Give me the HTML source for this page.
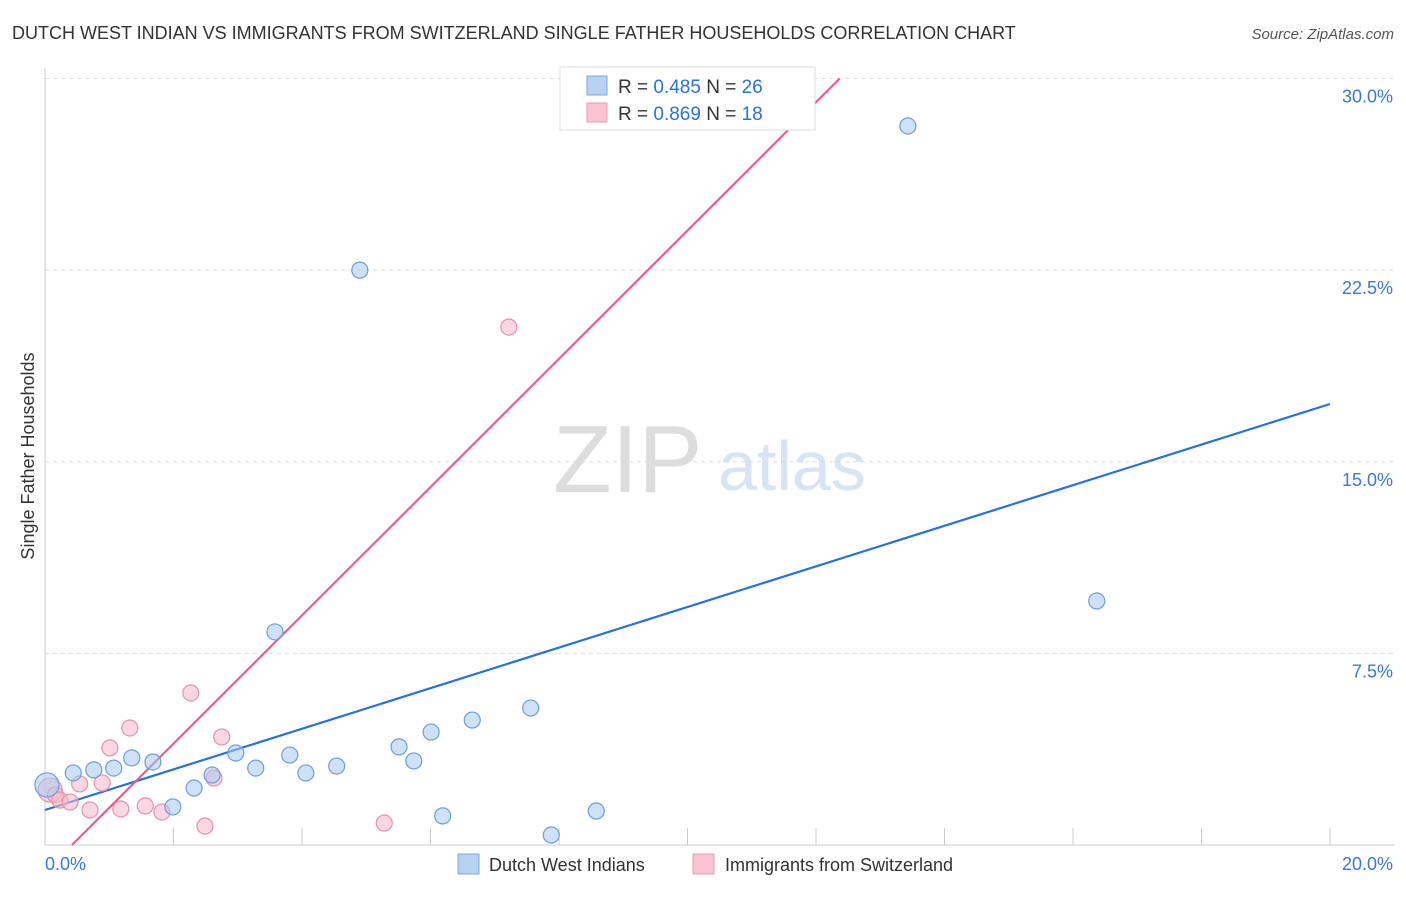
<!DOCTYPE html>
<html><head><meta charset="utf-8"><style>
body{margin:0;background:#fff;font-family:"Liberation Sans",sans-serif;}
svg text{font-family:"Liberation Sans",sans-serif;}
</style></head><body>
<svg width="1406" height="892" viewBox="0 0 1406 892">
<text x="12" y="39" font-size="18" fill="#333">DUTCH WEST INDIAN VS IMMIGRANTS FROM SWITZERLAND SINGLE FATHER HOUSEHOLDS CORRELATION CHART</text>
<text x="1394" y="39" font-size="15" fill="#555" text-anchor="end" font-style="italic">Source: ZipAtlas.com</text>
<g>
<text x="553" y="492" font-size="96" fill="#ddd" font-family="Liberation Serif,serif">ZIP</text>
<text x="718" y="490" font-size="70" fill="#d6e4f5">atlas</text>
</g>
<g id="grid"></g>
<g id="axes"></g>
<text transform="translate(34,456) rotate(-90)" font-size="18" fill="#333" text-anchor="middle">Single Father Households</text>
<g id="lines"></g>
<g id="points"></g>
<g>
<rect x="560" y="67" width="255" height="63" fill="#fff" stroke="#ddd"/>
<rect x="587" y="76" width="20" height="19" fill="#b8d2f4" stroke="#7aa8e0"/>
<rect x="587" y="103" width="20" height="19" fill="#f8c4d2" stroke="#ec9ab2"/>
<text x="618" y="93" font-size="19" fill="#333">R = <tspan fill="#2a72d8">0.485</tspan>   N = <tspan fill="#2a72d8">26</tspan></text>
<text x="618" y="120" font-size="19" fill="#333">R = <tspan fill="#2a72d8">0.869</tspan>   N = <tspan fill="#2a72d8"> 18</tspan></text>
</g>
<g>
<rect x="458" y="854" width="21" height="20" fill="#b8d2f4" stroke="#7aa8e0"/>
<text x="489" y="871" font-size="18" fill="#333">Dutch West Indians</text>
<rect x="693" y="854" width="21" height="20" fill="#f8c4d2" stroke="#ec9ab2"/>
<text x="725" y="871" font-size="18" fill="#333">Immigrants from Switzerland</text>
</g>
</svg>
<script>
const blueX=[0.03,0.44,0.76,1.07,1.35,1.68,1.99,2.32,2.60,2.97,3.28,3.58,3.81,4.06,4.54,4.90,5.51,5.74,6.01,6.19,6.65,7.56,7.88,8.58,13.43,16.37];
const blueY=[2.35,2.82,2.94,3.01,3.41,3.25,1.49,2.23,2.74,3.60,3.01,8.34,3.52,2.82,3.09,22.50,3.84,3.29,4.42,1.14,4.89,5.36,0.39,1.33,28.14,9.55];
const pinkX=[0.08,0.16,0.23,0.39,0.54,0.70,0.89,1.01,1.18,1.32,1.56,1.82,2.27,2.49,2.63,2.75,5.28,7.22];
const pinkY=[2.15,1.96,1.76,1.68,2.39,1.37,2.43,3.80,1.41,4.58,1.53,1.29,5.95,0.74,2.62,4.23,0.86,20.27];
const blueLine=[[0,1.37],[20,17.26]];
const pinkLine=[[0.42,0],[12.37,30]];
const yTicks=[7.5,15,22.5,30];
const yTickLabels=["7.5%","15.0%","22.5%","30.0%"];
const xTicks=[0,2,4,6,8,10,12,14,16,18,20];
const NS="http://www.w3.org/2000/svg";
const X=v=>45+v*64.25, Y=v=>845-v*25.55;
function mk(parent,tag,attrs){const e=document.createElementNS(NS,tag);for(const k in attrs)e.setAttribute(k,attrs[k]);document.getElementById(parent).appendChild(e);return e;}
yTicks.forEach((t,i)=>{
 const l=mk('grid','line',{x1:45,x2:1395,y1:Y(t),y2:Y(t),stroke:'#ddd','stroke-dasharray':'4,4'});
 
 
 const tx=mk('grid','text',{x:1393,y:Y(t)+24,'font-size':18,fill:'#3a78d8','text-anchor':'end'});
 tx.textContent=yTickLabels[i];
 
 
});
const ya=mk('axes','line',{x1:45,x2:45,y1:68,y2:845,stroke:'#ccc'});


const xa=mk('axes','line',{x1:45,x2:1395,y1:845,y2:845,stroke:'#ccc'});


xTicks.forEach(t=>{const l=mk('axes','line',{x1:X(t),x2:X(t),y1:828,y2:845,stroke:'#ccc'});
 
 });
const xl0=mk('axes','text',{x:45,y:870,'font-size':18,fill:'#3a78d8'});xl0.textContent='0.0%';


const xl1=mk('axes','text',{x:1393,y:870,'font-size':18,fill:'#3a78d8','text-anchor':'end'});xl1.textContent='20.0%';


function pts(xs,ys,fill,stroke,name){xs.forEach((x,i)=>{const c=mk('points','circle',{cx:X(x),cy:Y(ys[i]),r:i===0?12:8,fill:fill,stroke:stroke,'stroke-width':1.2,'fill-opacity':0.55});
 
 });}
pts(pinkX,pinkY,'#f5b8c8','#e890a8','point-switzerland');
pts(blueX,blueY,'#a8c8f0','#6a9ee0','point-dutch-west-indian');
const bl=mk('lines','line',{x1:X(blueLine[0][0]),y1:Y(blueLine[0][1]),x2:X(blueLine[1][0]),y2:Y(blueLine[1][1]),stroke:'#2a72d8','stroke-width':2.2});


const pl=mk('lines','line',{x1:X(pinkLine[0][0]),y1:Y(pinkLine[0][1]),x2:X(pinkLine[1][0]),y2:Y(pinkLine[1][1]),stroke:'#e8608a','stroke-width':2.2});


</script>
</body></html>
